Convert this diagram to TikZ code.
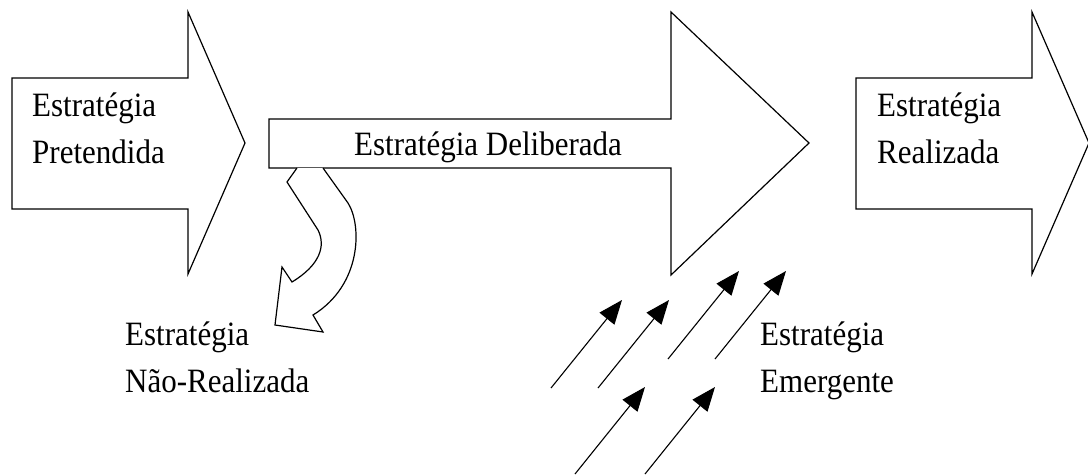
\documentclass[tikz,border=0pt]{standalone}
\usepackage{fontspec}
\setmainfont{Liberation Serif}
\usetikzlibrary{arrows.meta}
\begin{document}
\begin{tikzpicture}[x=1pt,y=-1pt,
  bigarrow/.style={draw=black, line width=1.2pt, fill=white, line join=miter},
  lbl/.style={anchor=base west, inner sep=0pt, align=left, yscale=1.1, transform shape, font=\fontsize{31}{42}\selectfont},
  emerg/.style={line width=1.1pt, -{Triangle[length=24pt,width=19pt]}}]
\useasboundingbox (0,0) rectangle (1088,475);
% big arrows
\draw[bigarrow] (12,78) -- (188,78) -- (188,12) -- (245,143) -- (188,274) -- (188,209) -- (12,209) -- cycle;
\draw[bigarrow] (856,78) -- (1032,78) -- (1032,12) -- (1089,143) -- (1032,274) -- (1032,209) -- (856,209) -- cycle;
\draw[bigarrow] (269,119) -- (671,119) -- (671,12) -- (809,143) -- (671,275) -- (671,168) -- (269,168) -- cycle;
% curved arrow (non-realised)
\draw[bigarrow] (297,168) -- (287,182) -- (318,230) .. controls (326,246) and (320,265) .. (292,282)
  -- (282,267) -- (275,325) -- (323,332) -- (313,315)
  .. controls (362,285) and (362,225) .. (348,203) -- (323,168);
% labels
\node[lbl] (pre) at (32,163) {Estratégia\\Pretendida};
\node[lbl] (del) at (354,155) {Estratégia Deliberada};
\node[lbl] (rea) at (877,163) {Estratégia\\Realizada};
\node[lbl] (nre) at (125,392) {Estratégia\\Não-Realizada};
\node[lbl] (eme) at (760,392) {Estratégia\\Emergente};
% emergent arrows
\coordinate (a1) at (551,388); \coordinate (b1) at (622,300);
\coordinate (a2) at (598,388); \coordinate (b2) at (669,300);
\coordinate (a3) at (668,359); \coordinate (b3) at (739,271);
\coordinate (a4) at (715,359); \coordinate (b4) at (786,271);
\coordinate (a5) at (575,474); \coordinate (b5) at (645,387);
\coordinate (a6) at (645,474); \coordinate (b6) at (715,387);
\foreach \i in {1,...,6} \draw[emerg] (a\i) -- (b\i);
\end{tikzpicture}
\end{document}
